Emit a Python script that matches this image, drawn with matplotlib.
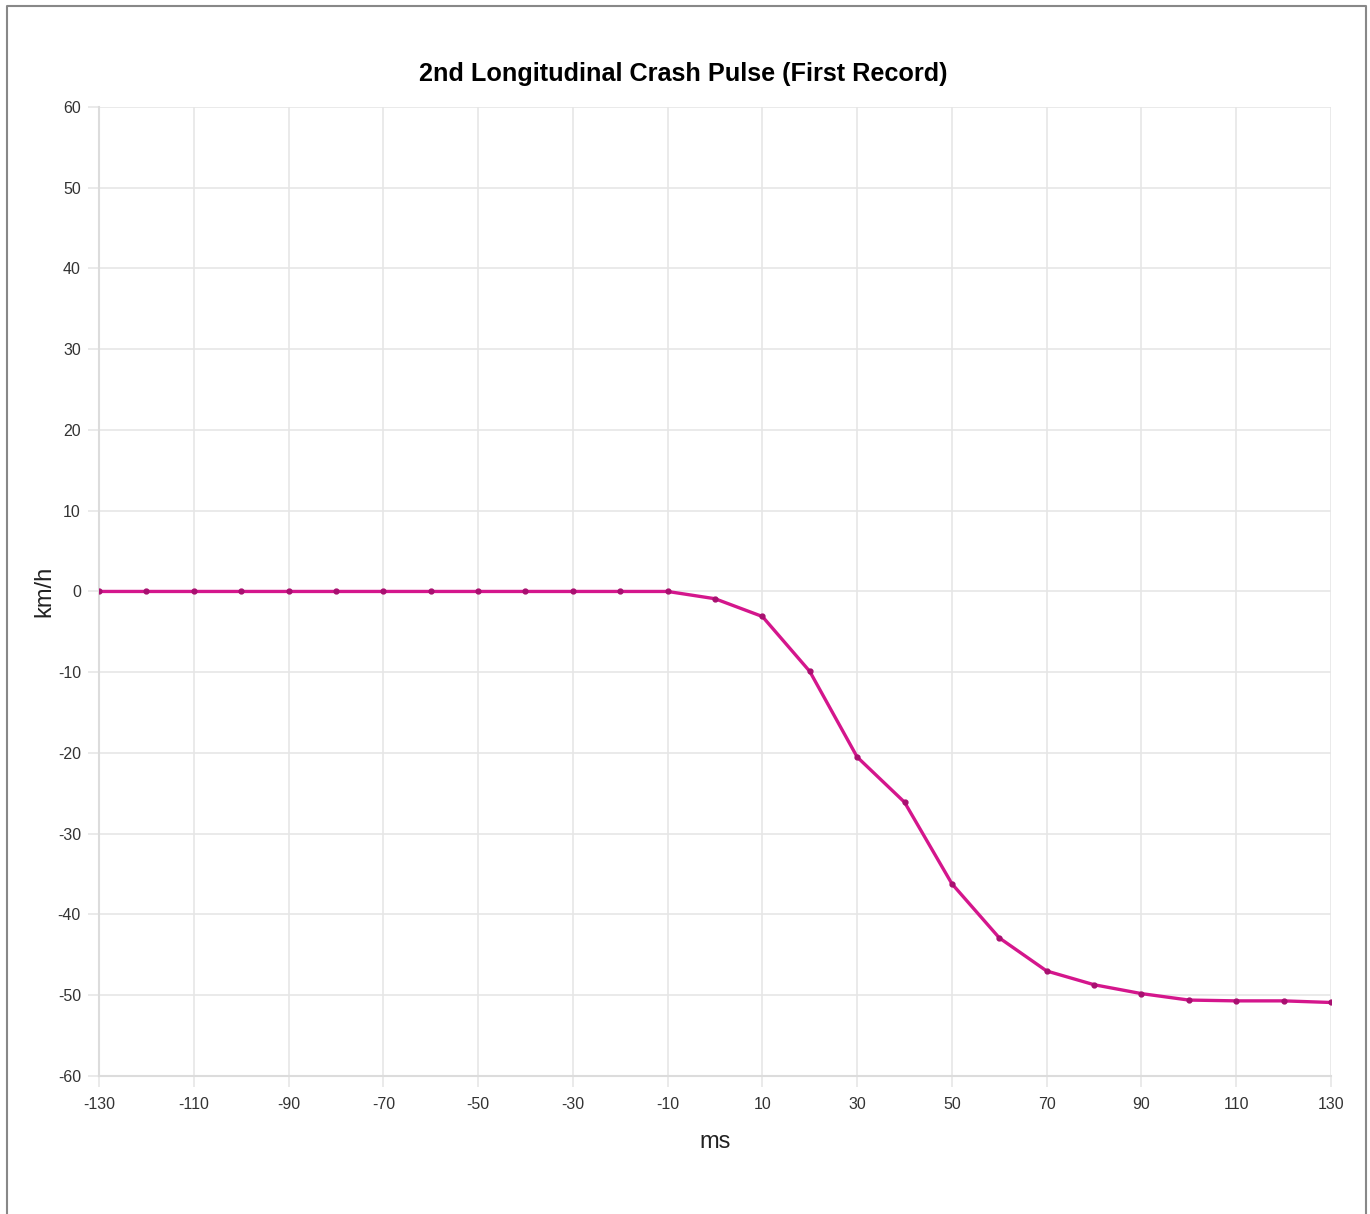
import matplotlib
matplotlib.use("Agg")
from matplotlib import pyplot as plt
from matplotlib import font_manager

# time (ms) and velocity change (km/h)
times = [-130, -120, -110, -100, -90, -80, -70, -60, -50, -40, -30, -20, -10,
         0, 10, 20, 30, 40, 50, 60, 70, 80, 90, 100, 110, 120, 130]
delta_v = [0, 0, 0, 0, 0, 0, 0, 0, 0, 0, 0, 0, 0,
           -0.9, -3.1, -9.9, -20.5, -26.1, -36.2, -42.9, -47.0, -48.7, -49.8,
           -50.6, -50.7, -50.7, -50.9]

x_ticks = list(range(-130, 131, 20))
y_ticks = list(range(-60, 61, 10))

names = {f.name for f in font_manager.fontManager.ttflist}
narrow = "Liberation Sans Narrow" if "Liberation Sans Narrow" in names else "Liberation Sans"
plt.rcParams['font.family'] = [narrow, 'DejaVu Sans']
plt.rcParams['axes.unicode_minus'] = False

fig = plt.figure(figsize=(13.7, 12.14), dpi=100)
ax = fig.add_axes([0.0723, 0.1137, 0.8992, 0.7982])

ax.plot(times, delta_v, color='#d4168c', linewidth=2.4, marker='o',
        markersize=3.5, markerfacecolor='#a81070', markeredgecolor='#a81070',
        zorder=3)

ax.set_xlim(-130, 130)
ax.set_ylim(-60, 60)
ax.set_xticks(x_ticks)
ax.set_yticks(y_ticks)
ax.grid(True, color='#e6e6e6', linewidth=1.2)
for s in ['top', 'right']:
    ax.spines[s].set_visible(False)
for s in ['left', 'bottom']:
    ax.spines[s].set_color('#dcdcdc')
    ax.spines[s].set_linewidth(1.5)
ax.tick_params(length=8, width=1.2, color='#e6e6e6', labelsize=11.5,
               labelcolor='#333333')
ax.tick_params(axis='x', pad=7)
ax.tick_params(axis='y', pad=5)

# title is centred on the whole figure, not on the plot area
fig.text(0.4985, 0.939, '2nd Longitudinal Crash Pulse (First Record)',
         fontsize=18.2, fontweight='bold', ha='center', va='center')
ax.set_xlabel('ms', fontsize=17, color='#222222', labelpad=14)
ax.set_ylabel('km/h', fontsize=17, color='#222222', labelpad=2)

# outer frame of the screenshot
fig.add_artist(plt.Line2D([0.005, 0.005, 0.997, 0.997], [0.0, 0.995, 0.995, 0.0],
                          transform=fig.transFigure, color='#888888', linewidth=1.5))

fig.savefig('out.png', dpi=100)
